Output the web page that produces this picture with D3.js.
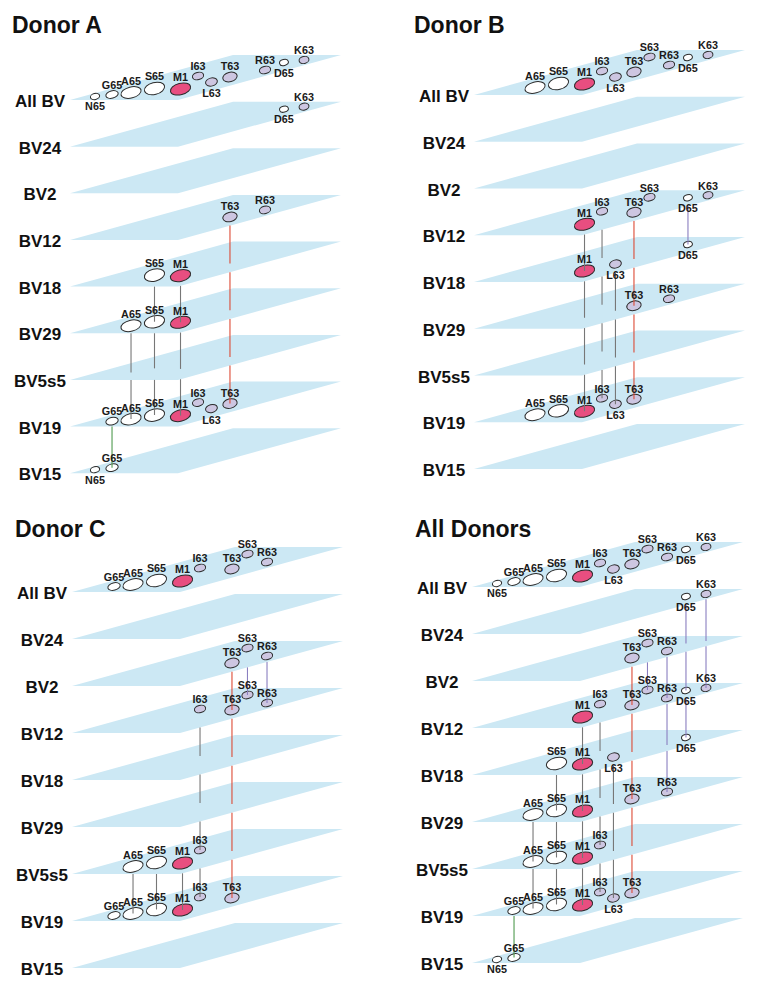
<!DOCTYPE html>
<html><head><meta charset="utf-8">
<script src="https://cdn.jsdelivr.net/npm/d3@7"></script>
<style>body{margin:0;background:#fff}svg{display:block}</style>
</head><body><svg id="c" width="758" height="992"></svg>
<script>
// ---------- data ----------
const layers = ["All BV","BV24","BV2","BV12","BV18","BV29","BV5s5","BV19","BV15"];
const residues = ["N65","G65","A65","S65","M1","I63","L63","T63","S63","R63","D65","K63"];
// position of each residue inside a plane: u = along the width, v = depth (0..1)
const residueU = [0.114,0.205,0.313,0.396,0.655,0.381,0.706,0.710,0.351,0.799,0.724,0.825];
const residueV = [0.078,0.122,0.167,0.256,0.244,0.533,0.400,0.511,0.844,0.667,0.833,0.889];
const residueRx = [4.7,6.3,10.3,10.3,10.3,5.7,6,7.3,5.7,5.7,4.5,5];
const residueRy = [3,3.7,5.5,6,5.7,3.7,4,4.7,3.7,3.7,3,3.5];
const residueKind = ["65","65","65","65","M1","63","63","63","63","63","65","63"];
const labelBelow = ["N65","L63","D65"];
const panelTitles = ["Donor A","Donor B","Donor C","All Donors"];

const donorALayers = [
  ["N65","G65","A65","S65","M1","I63","L63","T63","R63","D65","K63"],
  ["D65","K63"], [], ["T63","R63"], ["S65","M1"], ["A65","S65","M1"], [],
  ["G65","A65","S65","M1","I63","L63","T63"], ["N65","G65"]
];
const donorALinks = [["T63",3,7],["S65",4,5],["M1",4,5],["A65",5,7],["S65",5,7],["M1",5,7],["G65",7,8]];

const donorBLayers = [
  ["A65","S65","M1","I63","L63","T63","S63","R63","D65","K63"],
  [], [], ["M1","I63","T63","S63","D65","K63"], ["M1","L63","D65"], ["T63","R63"], [],
  ["A65","S65","M1","I63","L63","T63"], []
];
const donorBLinks = [["M1",3,4],["M1",4,7],["I63",3,7],["T63",3,5],["T63",5,7],["L63",4,7],["D65",3,4]];

const donorCLayers = [
  ["G65","A65","S65","M1","I63","T63","S63","R63"],
  [], ["T63","S63","R63"], ["I63","T63","S63","R63"], [], [], ["A65","S65","M1","I63"],
  ["G65","A65","S65","M1","I63","T63"], []
];
const donorCLinks = [["T63",2,3],["S63",2,3],["R63",2,3],["I63",3,6],["T63",3,7],["A65",6,7],["S65",6,7],["M1",6,7],["I63",6,7]];

const allDonorsLayers = [
  ["N65","G65","A65","S65","M1","I63","L63","T63","S63","R63","D65","K63"],
  ["D65","K63"], ["T63","S63","R63"], ["M1","I63","T63","S63","R63","D65","K63"],
  ["S65","M1","L63","D65"], ["A65","S65","M1","T63","R63"], ["A65","S65","M1","I63"],
  ["G65","A65","S65","M1","I63","L63","T63"], ["N65","G65"]
];
const allDonorsLinks = [["D65",1,3],["K63",1,3],["T63",2,3],["S63",2,3],["R63",2,3],["R63",3,5],["D65",3,4],
  ["T63",3,5],["T63",5,7],["M1",3,4],["M1",4,5],["M1",5,6],["M1",6,7],["I63",3,6],["I63",6,7],["L63",4,7],
  ["S65",4,5],["S65",5,6],["S65",6,7],["A65",5,6],["A65",6,7],["G65",7,8]];

// ---------- layout ----------
const panelLayers = [donorALayers, donorBLayers, donorCLayers, allDonorsLayers];
const panelLinks = [donorALinks, donorBLinks, donorCLinks, allDonorsLinks];
const geom = [
  {x:70, y:100, sp:46.65, tx:12, ty:33},
  {x:474, y:95, sp:46.75, tx:414, ty:33},
  {x:72, y:592, sp:47, tx:15, ty:537},
  {x:472, y:587, sp:47, tx:415, ty:537}
];
const W = 108, S = 163, H = 45;
const FONT = "'Liberation Sans', Arial, Helvetica, sans-serif";

const svg = d3.select("#c");
svg.append("rect").attr("width",758).attr("height",992).attr("fill","#fff");

const idx = r => residues.indexOf(r);
const uScale = d3.scaleLinear().domain([0,1]).range([0,W]);
const vxScale = d3.scaleLinear().domain([0,1]).range([0,S]);
const vyScale = d3.scaleLinear().domain([0,1]).range([0,-H]);
const fillScale = d3.scaleOrdinal().domain(["65","M1","63"]).range(["#ffffff","#e84e80","#cdc6e1"]);
const linkColor = d3.scaleOrdinal().domain(residues)
  .range(["#777","#4f9a4f","#777","#777","#777","#777","#777","#dd4a35","#8a7fc0","#8a7fc0","#8a7fc0","#8a7fc0"]);

panelTitles.forEach((title, pi) => {
  const g = geom[pi];
  const yL = d3.scaleLinear().domain([0, layers.length-1]).range([g.y, g.y + (layers.length-1)*g.sp]);
  const dxOf = r => uScale(residueU[idx(r)]) + vxScale(residueV[idx(r)]);
  const cx = r => g.x + dxOf(r);
  const cy = (r,k) => yL(k) + vyScale(residueV[idx(r)]);
  const edgeY = (r,k) => { const dx = dxOf(r); return dx <= W ? yL(k) : yL(k) - (dx - W) * H / S; };

  const pg = svg.append("g");
  pg.append("text").attr("x", g.tx).attr("y", g.ty).text(title)
    .attr("font-family", FONT).attr("font-weight","bold").attr("font-size", 23).attr("fill","#111");

  // planes
  pg.selectAll("polygon.plane").data(layers).join("polygon").attr("class","plane")
    .attr("points", (d,k) => {
      const y = yL(k), x = g.x;
      return [[x,y],[x+W,y],[x+W+S,y-H],[x+S,y-H]].map(p=>p.join(",")).join(" ");
    })
    .attr("fill","#cce8f4");

  // layer labels
  pg.selectAll("text.layer").data(layers).join("text").attr("class","layer")
    .attr("x", g.x - 30).attr("y", (d,k) => yL(k) + 7).attr("text-anchor","middle")
    .attr("font-family", FONT).attr("font-weight","bold").attr("font-size", 17).attr("fill","#111")
    .text(d => d);

  // residues
  const pts = [];
  panelLayers[pi].forEach((list,k) => list.forEach(r => pts.push({r, k})));
  pg.selectAll("ellipse").data(pts).join("ellipse")
    .attr("transform", d => `translate(${cx(d.r)},${cy(d.r,d.k)}) rotate(-14)`)
    .attr("rx", d => residueRx[idx(d.r)]).attr("ry", d => residueRy[idx(d.r)])
    .attr("fill", d => fillScale(residueKind[idx(d.r)]))
    .attr("stroke","#2a2a2a").attr("stroke-width",1);

  // links (split where hidden under intermediate planes)
  const segs = [];
  panelLinks[pi].forEach(([r,a,b]) => {
    for (let k = a; k < b; k++) {
      segs.push({r, y1: edgeY(r,k), y2: k+1 === b ? cy(r,b) : cy(r,k+1)});
    }
  });
  pg.selectAll("line").data(segs).join("line")
    .attr("x1", d => cx(d.r)).attr("x2", d => cx(d.r))
    .attr("y1", d => d.y1).attr("y2", d => d.y2)
    .attr("stroke", d => linkColor(d.r)).attr("stroke-width", 1.1);

  // residue labels
  pg.selectAll("text.res").data(pts).join("text").attr("class","res")
    .attr("x", d => cx(d.r))
    .attr("y", d => labelBelow.includes(d.r) ? cy(d.r,d.k) + residueRy[idx(d.r)] + 11 : cy(d.r,d.k) - residueRy[idx(d.r)] - 2)
    .attr("text-anchor","middle")
    .attr("font-family", FONT).attr("font-weight","bold").attr("font-size", 10.8).attr("fill","#1a1a1a")
    .text(d => d.r);
});
</script>
</body></html>
